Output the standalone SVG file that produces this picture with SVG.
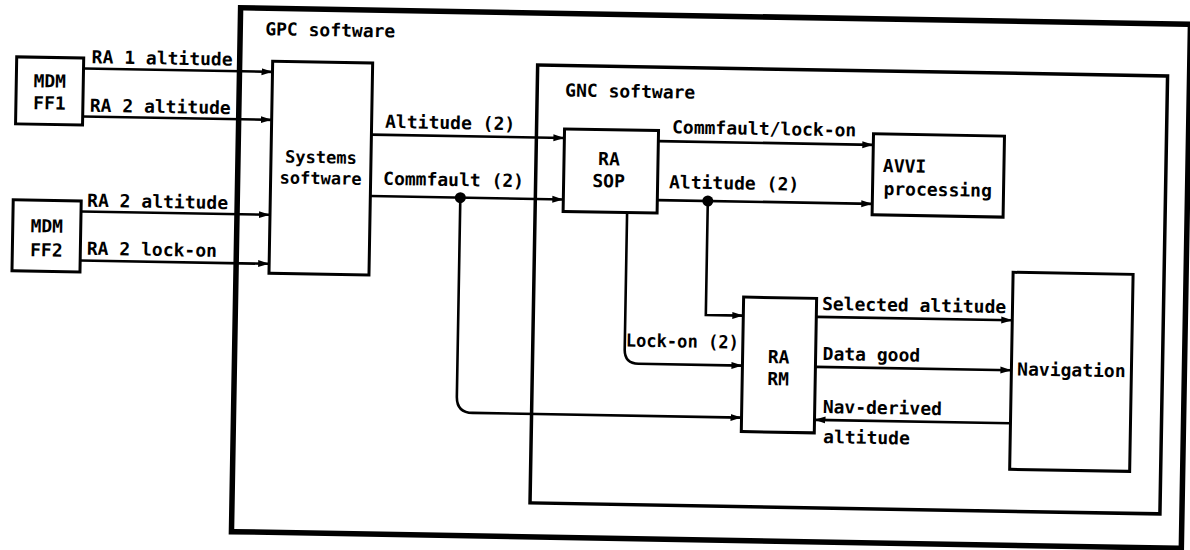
<svg xmlns="http://www.w3.org/2000/svg" width="1190" height="550" viewBox="0 0 1190 550">
<style>
  .box { fill: none; stroke: #000; stroke-width: 3; }
  .outer { fill: none; stroke: #000; stroke-width: 5.5; }
  .gnc { fill: none; stroke: #000; stroke-width: 3.5; }
  .wire { fill: none; stroke: #000; stroke-width: 2.6; }
  .arr { marker-end: url(#ah); }
  text { font-family: "DejaVu Sans Mono", "Liberation Mono", monospace; font-size: 18px; font-weight: bold; fill: #000; }
  .mid { text-anchor: middle; }
  .sm { font-size: 17px; }
</style>
<defs>
  <marker id="ah" markerUnits="userSpaceOnUse" markerWidth="12" markerHeight="8" refX="11" refY="4" orient="auto">
    <path d="M0,0.5 L11,4 L0,7.5 z" fill="#000"/>
  </marker>
</defs>
<rect width="1190" height="550" fill="#fff"/>
<g transform="rotate(1 595 275)">
  <g id="gpc-software">
    <rect class="outer" x="236" y="14" width="950" height="524"/>
    <text x="261" y="41">GPC software</text>
  </g>
  <g id="gnc-software">
    <rect class="gnc" x="534" y="66" width="630" height="438"/>
    <text x="562" y="97">GNC software</text>
  </g>
  <g id="mdm-ff1">
    <rect class="box" x="13" y="67" width="67" height="67"/>
    <text class="mid" x="46.5" y="97">MDM</text>
    <text class="mid" x="46.5" y="119">FF1</text>
  </g>
  <g id="mdm-ff2">
    <rect class="box" x="12" y="210" width="68" height="71"/>
    <text class="mid" x="46" y="242">MDM</text>
    <text class="mid" x="46" y="266">FF2</text>
  </g>
  <g id="systems-software">
    <rect class="box" x="269" y="67" width="100" height="212"/>
    <text class="mid sm" x="319" y="168">Systems</text>
    <text class="mid sm" x="319" y="189">software</text>
  </g>
  <g id="ra-sop">
    <rect class="box" x="562" y="129.5" width="94" height="82.5"/>
    <text class="mid" x="607" y="165">RA</text>
    <text class="mid" x="607" y="187">SOP</text>
  </g>
  <g id="avvi-processing">
    <rect class="box" x="871" y="129" width="131" height="81"/>
    <text x="881" y="167">AVVI</text>
    <text x="882" y="190">processing</text>
  </g>
  <g id="ra-rm">
    <rect class="box" x="744" y="294.5" width="73" height="134.5"/>
    <text class="mid" x="780" y="360">RA</text>
    <text class="mid" x="780" y="382">RM</text>
  </g>
  <g id="navigation">
    <rect class="box" x="1013" y="265" width="120" height="197"/>
    <text class="mid" x="1073" y="368">Navigation</text>
  </g>
  <g id="connectors">
    <path class="wire arr" d="M80,77.5 H269"/>
    <path class="wire arr" d="M80,125.5 H269"/>
    <path class="wire arr" d="M80,220.5 H269"/>
    <path class="wire arr" d="M80,269.5 H269"/>
    <path class="wire arr" d="M369,138.5 H562"/>
    <path class="wire arr" d="M369,200 H562"/>
    <path class="wire arr" d="M656,140 H871"/>
    <path class="wire arr" d="M656,199 H871"/>
    <path class="wire arr" d="M706.5,199 V313 H744"/>
    <path class="wire arr" d="M626,212 V349 Q626,363 640,363 H744"/>
    <path class="wire arr" d="M459,200 V399 Q459,415 475,415 H744"/>
    <path class="wire arr" d="M817,313 H1013"/>
    <path class="wire arr" d="M817,363 H1013"/>
    <path class="wire arr" d="M1013,416 H817"/>
    <circle cx="459" cy="200" r="5.5" fill="#000"/>
    <circle cx="706.5" cy="199" r="5.5" fill="#000"/>
    <text x="88" y="72">RA 1 altitude</text>
    <text x="87" y="120.5">RA 2 altitude</text>
    <text x="86" y="215.5">RA 2 altitude</text>
    <text x="86.5" y="263.5">RA 2 lock-on</text>
    <text x="382.5" y="131.5">Altitude (2)</text>
    <text x="381.5" y="188.5">Commfault (2)</text>
    <text x="669.5" y="132">Commfault/lock-on</text>
    <text x="667.5" y="187">Altitude (2)</text>
    <text x="627" y="346" textLength="113" lengthAdjust="spacingAndGlyphs">Lock-on (2)</text>
    <text x="822.5" y="306">Selected altitude</text>
    <text x="824" y="356">Data good</text>
    <text x="825" y="409">Nav-derived</text>
    <text x="826" y="439">altitude</text>
  </g>
</g>
</svg>
